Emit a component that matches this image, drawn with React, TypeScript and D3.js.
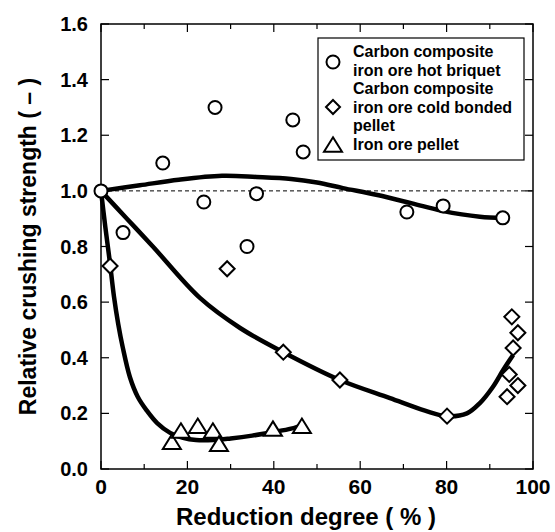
import React from "react";
import * as d3 from "d3";

const briquetX = [0, 5.1, 14.3, 23.8, 26.4, 33.8, 36, 44.4, 46.8, 70.8, 79.2, 93];
const briquetY = [1.0, 0.85, 1.1, 0.96, 1.3, 0.8, 0.99, 1.255, 1.14, 0.924, 0.946, 0.903];

const coldX = [2.1, 29.2, 42.2, 55.3, 80.1, 95.1, 96.5, 95.4, 94.5, 96.5, 94.0];
const coldY = [0.73, 0.72, 0.42, 0.32, 0.19, 0.547, 0.49, 0.435, 0.34, 0.3, 0.26];

const pelletX = [16.4, 18.5, 22.4, 25.9, 27.3, 39.8, 46.5];
const pelletY = [0.093, 0.133, 0.15, 0.133, 0.086, 0.14, 0.15];

// fitted trend curves
const briquetFitX = [0, 9, 18, 28, 36, 44, 50, 56, 64, 72, 79, 87.7, 93];
const briquetFitY = [1.0, 1.02, 1.04, 1.054, 1.05, 1.043, 1.03, 1.01, 0.985, 0.955, 0.928, 0.907, 0.903];

const coldFitX = [0, 6, 12, 22.9, 32.2, 42.2, 55.3, 66.9, 75, 80, 84.7, 87.7, 90.7, 93.1, 95.4];
const coldFitY = [1.0, 0.9, 0.8, 0.615, 0.507, 0.42, 0.32, 0.255, 0.21, 0.19, 0.2, 0.237, 0.295, 0.356, 0.41];

const pelletFitX = [0, 1, 2, 3, 4, 5, 6.7, 8.5, 10.6, 13, 16, 19, 22, 26, 30, 35, 40, 44, 47];
const pelletFitY = [1.0, 0.87, 0.75, 0.62, 0.52, 0.44, 0.33, 0.26, 0.21, 0.165, 0.13, 0.112, 0.104, 0.104, 0.11, 0.12, 0.133, 0.145, 0.16];

const xTicks = [0, 20, 40, 60, 80, 100];
const xMinor = [10, 30, 50, 70, 90];
const yTicks = [0, 0.2, 0.4, 0.6, 0.8, 1.0, 1.2, 1.4, 1.6];

const legendLabels = [
  ["Carbon composite", "iron ore hot briquet"],
  ["Carbon composite", "iron ore cold bonded", "pellet"],
  ["Iron ore pellet"],
];

const FONT = "'Liberation Sans', Arial, Helvetica, sans-serif";

export default function App() {
  const W = 555, H = 532;
  const x = d3.scaleLinear().domain([0, 100]).range([101, 533]);
  const y = d3.scaleLinear().domain([0, 1.6]).range([469, 24]);
  const [x0, x1] = x.range();
  const [y0, y1] = y.range();

  const curve = (xs: number[], ys: number[]) =>
    d3.line<number>()
      .x((i) => x(xs[i]))
      .y((i) => y(ys[i]))
      .curve(d3.curveCatmullRom.alpha(0.5))(d3.range(xs.length)) || "";

  const diamond = (cx: number, cy: number, r = 7.5) =>
    `M${cx},${cy - r}L${cx + r},${cy}L${cx},${cy + r}L${cx - r},${cy}Z`;
  const tri = (cx: number, cy: number, w = 9, h = 14.5) =>
    `M${cx},${cy - h * 0.6}L${cx + w},${cy + h * 0.4}L${cx - w},${cy + h * 0.4}Z`;

  return (
    <svg width={W} height={H} style={{ position: "absolute", left: 0, top: 0, background: "#fff" }}>
      {/* frame */}
      <rect x={x0} y={y1} width={x1 - x0} height={y0 - y1} fill="none" stroke="#000" strokeWidth={1.5} />
      {xTicks.map((t) => (
        <g key={"xt" + t}>
          <line x1={x(t)} x2={x(t)} y1={y0} y2={y0 - 8} stroke="#000" strokeWidth={1.2} />
          <line x1={x(t)} x2={x(t)} y1={y1} y2={y1 + 8} stroke="#000" strokeWidth={1.2} />
          <text x={x(t)} y={494} textAnchor="middle" fontFamily={FONT} fontWeight="bold" fontSize={21}>{t}</text>
        </g>
      ))}
      {xMinor.map((t) => (
        <g key={"xm" + t}>
          <line x1={x(t)} x2={x(t)} y1={y0} y2={y0 - 5} stroke="#000" strokeWidth={1.2} />
          <line x1={x(t)} x2={x(t)} y1={y1} y2={y1 + 5} stroke="#000" strokeWidth={1.2} />
        </g>
      ))}
      {yTicks.map((t) => (
        <g key={"yt" + t}>
          <line x1={x0} x2={x0 + 8} y1={y(t)} y2={y(t)} stroke="#000" strokeWidth={1.2} />
          <line x1={x1} x2={x1 - 8} y1={y(t)} y2={y(t)} stroke="#000" strokeWidth={1.2} />
          <text x={88} y={y(t) + 7} textAnchor="end" fontFamily={FONT} fontWeight="bold" fontSize={20}>{t.toFixed(1)}</text>
        </g>
      ))}
      {/* reference line */}
      <line x1={x0} x2={x1} y1={y(1)} y2={y(1)} stroke="#000" strokeWidth={1} strokeDasharray="4,3" />

      {/* trend curves */}
      <path d={curve(briquetFitX, briquetFitY)} fill="none" stroke="#000" strokeWidth={4.5} />
      <path d={curve(coldFitX, coldFitY)} fill="none" stroke="#000" strokeWidth={4.5} />
      <path d={curve(pelletFitX, pelletFitY)} fill="none" stroke="#000" strokeWidth={4.5} />

      {/* markers */}
      {coldX.map((v, i) => (
        <path key={"d" + i} d={diamond(x(v), y(coldY[i]))} fill="#fff" stroke="#000" strokeWidth={2} />
      ))}
      {pelletX.map((v, i) => (
        <path key={"t" + i} d={tri(x(v), y(pelletY[i]))} fill="#fff" stroke="#000" strokeWidth={2} />
      ))}
      {briquetX.map((v, i) => (
        <circle key={"c" + i} cx={x(v)} cy={y(briquetY[i])} r={6.5} fill="#fff" stroke="#000" strokeWidth={2} />
      ))}

      {/* legend */}
      <rect x={318} y={38} width={206} height={122} fill="#fff" stroke="#000" strokeWidth={1.2} />
      <circle cx={333} cy={62} r={6.5} fill="#fff" stroke="#000" strokeWidth={2} />
      <path d={diamond(333, 107, 7)} fill="#fff" stroke="#000" strokeWidth={2} />
      <path d={tri(333, 146)} fill="#fff" stroke="#000" strokeWidth={2} />
      <g fontFamily={FONT} fontWeight="bold" fontSize={16}>
        {[...legendLabels[0], ...legendLabels[1], ...legendLabels[2]].map((s, i) => (
          <text key={"l" + i} x={353} y={57 + i * 18.6}>{s}</text>
        ))}
      </g>

      {/* axis titles */}
      <text x={306} y={525} textAnchor="middle" fontFamily={FONT} fontWeight="bold" fontSize={24}>Reduction degree ( % )</text>
      <text transform={`translate(36,${(y0 + y1) / 2}) rotate(-90)`} textAnchor="middle" fontFamily={FONT} fontWeight="bold" fontSize={23}>Relative crushing strength ( – )</text>
    </svg>
  );
}
